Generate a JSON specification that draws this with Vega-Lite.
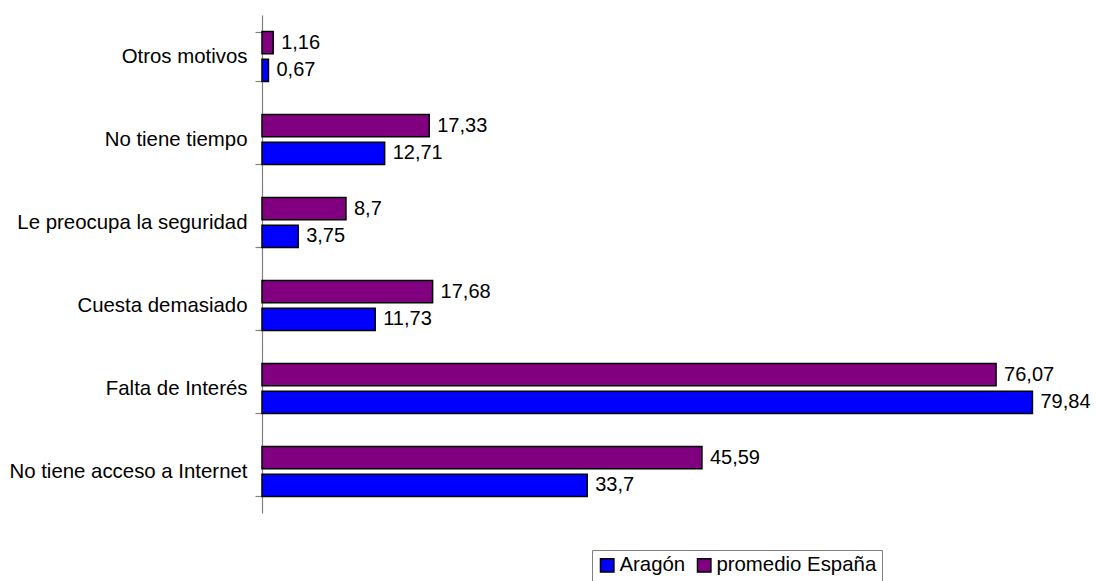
{
  "$schema": "https://vega.github.io/schema/vega-lite/v6.json",
  "autosize": "none",
  "padding": {"left": 262, "top": 15, "right": 62, "bottom": 68},
  "width": 772,
  "height": 498,
  "background": "white",
  "config": {
    "view": {"stroke": null},
    "font": "Liberation Sans"
  },
  "data": {
    "values": [
      {"motivo": "Otros motivos", "serie": "promedio España", "valor": 1.16, "etiqueta": "1,16"},
      {"motivo": "Otros motivos", "serie": "Aragón", "valor": 0.67, "etiqueta": "0,67"},
      {"motivo": "No tiene tiempo", "serie": "promedio España", "valor": 17.33, "etiqueta": "17,33"},
      {"motivo": "No tiene tiempo", "serie": "Aragón", "valor": 12.71, "etiqueta": "12,71"},
      {"motivo": "Le preocupa la seguridad", "serie": "promedio España", "valor": 8.7, "etiqueta": "8,7"},
      {"motivo": "Le preocupa la seguridad", "serie": "Aragón", "valor": 3.75, "etiqueta": "3,75"},
      {"motivo": "Cuesta demasiado", "serie": "promedio España", "valor": 17.68, "etiqueta": "17,68"},
      {"motivo": "Cuesta demasiado", "serie": "Aragón", "valor": 11.73, "etiqueta": "11,73"},
      {"motivo": "Falta de Interés", "serie": "promedio España", "valor": 76.07, "etiqueta": "76,07"},
      {"motivo": "Falta de Interés", "serie": "Aragón", "valor": 79.84, "etiqueta": "79,84"},
      {"motivo": "No tiene acceso a Internet", "serie": "promedio España", "valor": 45.59, "etiqueta": "45,59"},
      {"motivo": "No tiene acceso a Internet", "serie": "Aragón", "valor": 33.7, "etiqueta": "33,7"}
    ]
  },
  "encoding": {
    "y": {
      "field": "motivo",
      "type": "nominal",
      "scale": {
        "domain": ["Otros motivos", "No tiene tiempo", "Le preocupa la seguridad", "Cuesta demasiado", "Falta de Interés", "No tiene acceso a Internet"],
        "paddingInner": 0.4,
        "paddingOuter": 0.2
      },
      "axis": {
        "title": null,
        "tickBand": "extent",
        "tickSize": 7,
        "labelPadding": 8,
        "labelFontSize": 20.4,
        "labelColor": "black",
        "labelLimit": 400,
        "domainColor": "#808080",
        "tickColor": "#808080",
        "domainWidth": 1.2,
        "tickWidth": 1.2
      }
    },
    "yOffset": {
      "field": "serie",
      "type": "nominal",
      "scale": {"domain": ["promedio España", "Aragón"], "paddingInner": 0.2, "paddingOuter": 0}
    },
    "x": {
      "field": "valor",
      "type": "quantitative",
      "scale": {"domain": [0, 80], "nice": false, "zero": true},
      "axis": null
    }
  },
  "layer": [
    {
      "mark": {"type": "bar", "stroke": "black", "strokeWidth": 1.5},
      "encoding": {
        "color": {
          "field": "serie",
          "type": "nominal",
          "scale": {"domain": ["Aragón", "promedio España"], "range": ["#0000FF", "#800080"]},
          "legend": {
            "title": null,
            "orient": "none",
            "direction": "horizontal",
            "legendX": 330,
            "legendY": 535,
            "symbolType": "square",
            "symbolSize": 180,
            "symbolStrokeColor": "black",
            "symbolStrokeWidth": 1.5,
            "symbolOpacity": 1,
            "labelFontSize": 20.4,
            "labelColor": "black",
            "labelLimit": 300,
            "labelOffset": 2,
            "columnPadding": 8,
            "padding": 5,
            "strokeColor": "#808080",
            "fillColor": "white"
          }
        }
      }
    },
    {
      "mark": {"type": "text", "align": "left", "baseline": "middle", "dx": 8, "fontSize": 20, "color": "black"},
      "encoding": {
        "text": {"field": "etiqueta", "type": "nominal"}
      }
    }
  ]
}
